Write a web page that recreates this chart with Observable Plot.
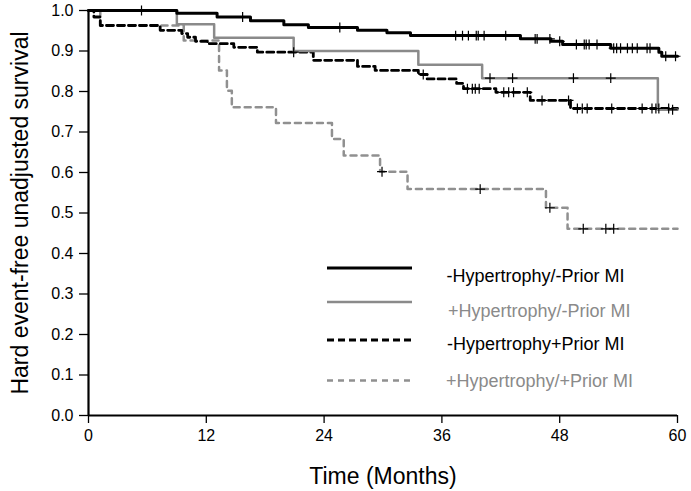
<!DOCTYPE html>
<html>
<head>
<meta charset="utf-8">
<script src="https://cdn.jsdelivr.net/npm/d3@7"></script>
<script src="https://cdn.jsdelivr.net/npm/@observablehq/plot@0.6"></script>
<style>
  body { margin: 0; background: #fff; font-family: "Liberation Sans", Arial, sans-serif; }
  #wrap { position: relative; width: 691px; height: 491px; }
  #legend { position: absolute; left: 0; top: 0; pointer-events: none; }
</style>
</head>
<body>
<div id="wrap"><div id="chart"></div><svg id="legend" width="691" height="491"></svg></div>
<script>
// ---- Data ----
const seriesNames = ["-Hypertrophy/-Prior MI", "+Hypertrophy/-Prior MI", "-Hypertrophy+Prior MI", "+Hypertrophy/+Prior MI"];

const blackSolidTime = [0, 9, 13.1, 16.5, 19.9, 22.4, 27.4, 30.4, 32.8, 44.0, 47.1, 48.3, 53.2, 58.1, 58.4, 60];
const blackSolidSurv = [1.0, 0.993, 0.984, 0.975, 0.965, 0.958, 0.951, 0.945, 0.938, 0.930, 0.924, 0.916, 0.907, 0.897, 0.887, 0.887];
const blackSolidCensor = [5.4, 15.7, 25.6, 37.4, 38.1, 38.7, 39.5, 39.7, 40.3, 42.5, 45.5, 45.7, 47.0, 48.0, 49.7, 50.5, 50.7, 51.0, 51.8, 53.5, 53.8, 54.2, 54.9, 55.4, 55.9, 56.9, 57.2, 58.8, 59.8];

const graySolidTime = [0, 9, 12.8, 20.9, 33.6, 40.1, 58.0, 60];
const graySolidSurv = [1.0, 0.966, 0.933, 0.900, 0.866, 0.833, 0.755, 0.755];
const graySolidCensor = [40.9, 43.2, 49.4, 53.2, 59.5];

const blackDashTime = [0, 0.55, 1.2, 7.3, 9.5, 10.1, 10.9, 12.1, 14.8, 17.2, 22.9, 27.4, 29.2, 33.6, 34.5, 37.5, 38.2, 41.5, 45.0, 49.1, 60];
const blackDashSurv = [1.0, 0.984, 0.963, 0.951, 0.943, 0.934, 0.924, 0.918, 0.909, 0.897, 0.877, 0.862, 0.852, 0.842, 0.831, 0.820, 0.807, 0.798, 0.778, 0.758, 0.758];
const blackDashCensor = [20.9, 34.1, 38.6, 39.1, 39.4, 39.8, 42.3, 42.8, 43.3, 44.7, 46.2, 48.9, 49.8, 50.3, 50.8, 53.3, 56.4, 57.4, 57.8, 58.1, 59.1];

const grayDashTime = [0, 1.2, 9.7, 13.3, 14.1, 14.6, 19.1, 24.8, 26.0, 29.7, 32.5, 46.6, 48.8, 60];
const grayDashSurv = [1.0, 0.963, 0.926, 0.852, 0.802, 0.761, 0.722, 0.683, 0.642, 0.602, 0.559, 0.513, 0.461, 0.461];
const grayDashCensor = [29.9, 39.9, 47.0, 50.4, 52.7, 53.5];

const xTicks = [0, 12, 24, 36, 48, 60];
const yTicks = [0, 0.1, 0.2, 0.3, 0.4, 0.5, 0.6, 0.7, 0.8, 0.9, 1.0];

// ---- Styles ----
const styles = [
  {stroke: "#000000", width: 3, dash: null, text: "#000000"},
  {stroke: "#8a8a8a", width: 2.5, dash: null, text: "#8a8a8a"},
  {stroke: "#000000", width: 2.8, dash: "7,4", text: "#000000"},
  {stroke: "#909090", width: 2.5, dash: "6,5", text: "#8a8a8a"}
];

const allSeries = [
  {time: blackSolidTime, surv: blackSolidSurv, censor: blackSolidCensor},
  {time: graySolidTime, surv: graySolidSurv, censor: graySolidCensor},
  {time: blackDashTime, surv: blackDashSurv, censor: blackDashCensor},
  {time: grayDashTime, surv: grayDashSurv, censor: grayDashCensor}
];

function stepValue(time, surv, t) {
  let v = surv[0];
  for (let i = 0; i < time.length; i++) if (time[i] <= t) v = surv[i];
  return v;
}

const lineMarks = [];
const censorRows = [];
const drawOrder = [3, 2, 1, 0];
for (const i of drawOrder) {
  const s = allSeries[i];
  const rows = s.time.map((t, k) => ({t, s: s.surv[k], name: seriesNames[i]}));
  lineMarks.push(Plot.line(rows, {
    x: "t", y: "s", curve: "step-after",
    stroke: styles[i].stroke, strokeWidth: styles[i].width,
    strokeDasharray: styles[i].dash || undefined
  }));
  for (const c of s.censor) censorRows.push({t: c, s: stepValue(s.time, s.surv, c)});
}

const chart = Plot.plot({
  width: 691,
  height: 491,
  marginLeft: 88,
  marginRight: 14,
  marginTop: 10,
  marginBottom: 76,
  style: {fontFamily: "Liberation Sans, Arial, sans-serif", fontSize: "16px", color: "#000", background: "#fff"},
  x: {domain: [0, 60]},
  y: {domain: [0, 1]},
  marks: [
    Plot.axisX({ticks: xTicks, tickSize: 8, tickPadding: 6, fontSize: 16, label: null, strokeWidth: 1.3}),
    Plot.axisX({ticks: [], label: "Time (Months)", labelAnchor: "center", labelArrow: "none", labelOffset: 68, fontSize: 23}),
    Plot.axisY({ticks: yTicks, tickFormat: d3.format(".1f"), tickSize: 9, tickPadding: 6, fontSize: 16, label: null, strokeWidth: 1.3}),
    Plot.axisY({ticks: [], label: "Hard event-free unadjusted survival", labelAnchor: "center", labelArrow: "none", labelOffset: 77, fontSize: 23}),
    ...lineMarks,
    Plot.dot(censorRows, {x: "t", y: "s", symbol: "plus", r: 3.3, stroke: "#000", strokeWidth: 1.2}),
    Plot.ruleX([0], {stroke: "#000", strokeWidth: 2.2}),
    Plot.ruleY([0], {stroke: "#000", strokeWidth: 2.2})
  ]
});
document.getElementById("chart").appendChild(chart);

// ---- Legend overlay (inside plot area, as in the reference) ----
const legend = d3.select("#legend");
const legendLineY = [268, 302, 340, 380.5];
const legendTextY = [281.5, 316.5, 350, 386.5];
const legendTextX = [446.5, 448, 447, 446];
seriesNames.forEach((name, i) => {
  legend.append("line").attr("x1", 327).attr("x2", 412).attr("y1", legendLineY[i]).attr("y2", legendLineY[i])
    .attr("stroke", styles[i].stroke).attr("stroke-width", styles[i].width)
    .attr("stroke-dasharray", styles[i].dash);
  legend.append("text").attr("x", legendTextX[i]).attr("y", legendTextY[i]).text(name)
    .attr("fill", styles[i].text)
    .attr("font-family", "Liberation Sans, Arial, sans-serif").attr("font-size", 18);
});
</script>
</body>
</html>
